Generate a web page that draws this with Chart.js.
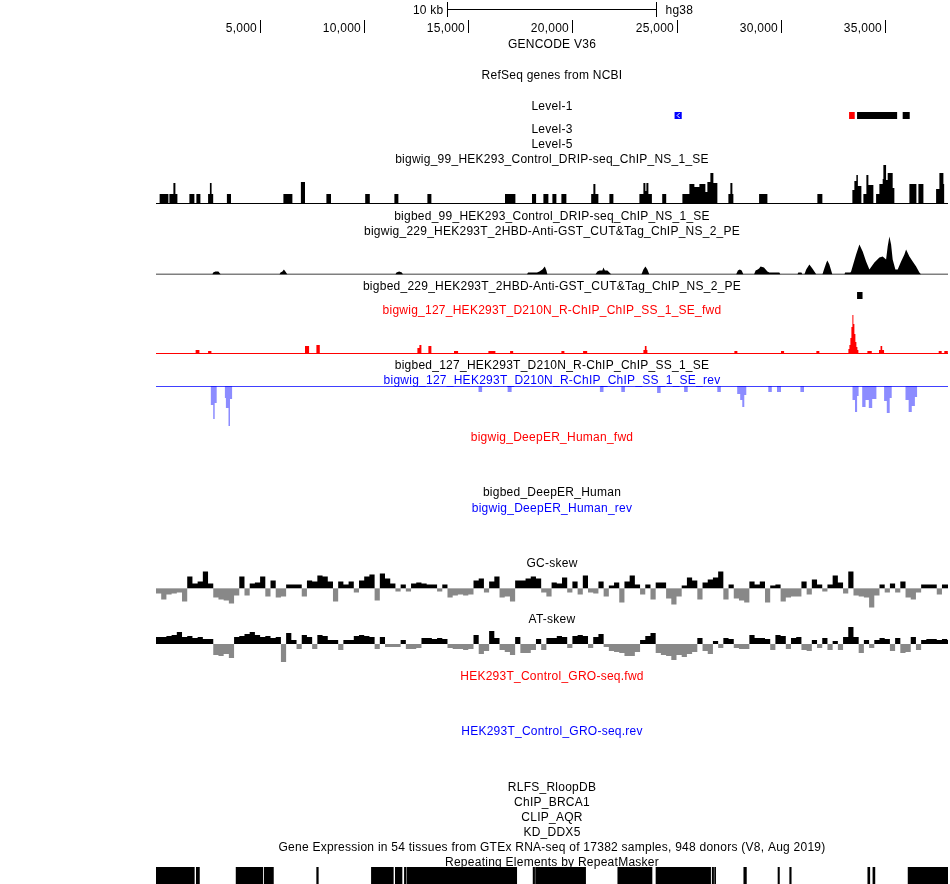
<!DOCTYPE html>
<html><head><meta charset="utf-8">
<script src="https://cdn.jsdelivr.net/npm/chart.js@4.4.1/dist/chart.umd.min.js"></script>
<style>html,body{margin:0;padding:0;background:#fff;}canvas{display:block;}</style>
</head><body>
<canvas id="c" width="950" height="884"></canvas>
<script>
// ---------------- DATA ----------------
const X_MIN = 0, X_MAX = 38040;                      // viewed region (bp)
const rulerTicks  = [5000, 10000, 15000, 20000, 25000, 30000, 35000];
const rulerLabels = ['5,000', '10,000', '15,000', '20,000', '25,000', '30,000', '35,000'];
const scaleBar = [14000, 24000];
const scaleBarLabel = '10 kb';
const assemblyLabel = 'hg38';

const trackTitles = [
  'GENCODE V36',
  'RefSeq genes from NCBI',
  'Level-1',
  'Level-3',
  'Level-5',
  'bigwig_99_HEK293_Control_DRIP-seq_ChIP_NS_1_SE',
  'bigbed_99_HEK293_Control_DRIP-seq_ChIP_NS_1_SE',
  'bigwig_229_HEK293T_2HBD-Anti-GST_CUT&Tag_ChIP_NS_2_PE',
  'bigbed_229_HEK293T_2HBD-Anti-GST_CUT&Tag_ChIP_NS_2_PE',
  'bigwig_127_HEK293T_D210N_R-ChIP_ChIP_SS_1_SE_fwd',
  'bigbed_127_HEK293T_D210N_R-ChIP_ChIP_SS_1_SE',
  'bigwig_127_HEK293T_D210N_R-ChIP_ChIP_SS_1_SE_rev',
  'bigwig_DeepER_Human_fwd',
  'bigbed_DeepER_Human',
  'bigwig_DeepER_Human_rev',
  'GC-skew',
  'AT-skew',
  'HEK293T_Control_GRO-seq.fwd',
  'HEK293T_Control_GRO-seq.rev',
  'RLFS_RloopDB',
  'ChIP_BRCA1',
  'CLIP_AQR',
  'KD_DDX5',
  'Gene Expression in 54 tissues from GTEx RNA-seq of 17382 samples, 948 donors (V8, Aug 2019)',
  'Repeating Elements by RepeatMasker'
];

// Level-1 gene features
const geneStart  = [24923, 33304, 33688, 35879];
const geneEnd    = [25235, 33544, 35581, 36186];
const geneKind   = ['lnc', 'pseudo', 'coding', 'coding'];
const geneStrand = ['-', '+', '+', '+'];

// DRIP-seq bigwig (signal per interval)
const dripStart = [163,644,836,932,1604,1940,2502,2589,2670,3405,6119,6959,8184,10048,11450,13035,16763,18059,18607,19039,19471,
  20902,21008,21104,21777,23218,23410,23506,23554,23650,24314,25283,25619,25859,26099,26387,26483,26627,26771,27492,27588,27684,
  28967,31766,33447,33543,33639,33712,33976,34120,34216,34586,34744,34903,34936,35066,35143,35383,36186,36619,37468,37627,37819];
const dripEnd = [596,836,932,1028,1844,2132,2589,2670,2747,3602,6551,7156,8405,10269,11642,13227,17262,18256,18847,19231,19711,
  21008,21104,21248,21969,23410,23506,23554,23650,23818,24506,25619,25859,26099,26387,26483,26627,26771,26963,27588,27684,27732,
  29366,32006,33543,33639,33712,33880,34120,34216,34456,34744,34903,34936,35066,35143,35383,35464,36523,36859,37627,37819,37867];
const dripSignal = [10,10,21,10,10,10,10,21,10,10,10,22,10,10,10,10,10,10,10,10,10,
  10,20,10,10,10,21,13,21,10,10,10,20,17,20,12,22,31,21,10,21,10,
  10,10,14,23,29,18,10,29,19,10,20,25,39,24,31,16,20,20,15,31,20];

// CUT&Tag bigwig (position, signal)
const cutPos = [2700,2747,2853,2997,3112, 5927,5980,6071,6143,6215,6311, 11498,11550,11680,11810,11863,
  17814,17870,18300,18415,18559,18674,18751,18799, 21104,21200,21296,21440,21488,21560,21680,21873,
  23314,23410,23506,23600,23698, 27862,27950,28040,28130,28215,
  28722,28800,28900,28967,29040,29200,29366,29460,29940,29990, 30806,30850,31000,31046,
  31142,31230,31382,31526,31718, 32006,32100,32200,32246,32342,32486,
  33063,33100,33350,33386,33626,33785,33943,34106,34265,34505,34744,34903,35066,35143,35225,35307,35383,
  35513,35624,35787,35946,36027,36186,36345,36508,36666,36750];
const cutSignal = [0,2,3,3,0, 0,2,3,5,3,0, 0,2,3,2,0,
  0,2,2,3,5,8,4,0, 0,3,4,4,7,4,4,0,
  0,5,8,5,0, 0,4,5,4,0,
  0,4,5,6,8,7,3,2,2,0, 0,2,2,0,
  0,5,10,6,0, 0,6,12,14,10,0,
  0,2,2,3,20,30,23,13,5,12,17,18,15,28,38,30,15,
  5,5,13,20,25,18,13,8,2,0];

// bigbed_229 peak
const bed229Start = [33688];
const bed229End   = [33919];

// R-ChIP forward strand
const fwdStart = [1892,2502,7156,7704,12555,12651,13083,14313,15965,17007,19471,20513,23410,23480,23560,27780,30018,31718,
  33256,33304,33352,33400,33448,33496,33544,33592,33640,33688,34168,34725,34800,34880,37593,37862];
const fwdEnd = [2085,2661,7353,7867,12651,12747,13227,14510,16301,17156,19615,20710,23480,23560,23602,27924,30167,31862,
  33304,33352,33400,33448,33496,33544,33592,33640,33688,33736,34379,34800,34880,34969,37737,38035];
const fwdSignal = [4,3,8,9,6,9,8,3,3,3,3,3,4,8,4,3,3,3,
  5,9,16,27,39,30,20,12,7,4,3,4,8,4,3,3];

// R-ChIP reverse strand
const revStart = [2622,2747,2819,3309,3357,3482,3554,15490,16888,21321,22349,24068,25365,26960,27915,28059,28160,28256,
  29409,29827,30951,33453,33573,33674,33919,34080,34236,34400,34971,35100,35240,35998,36150,36300,36450];
const revEnd = [2747,2819,2915,3357,3482,3554,3655,15663,17080,21494,22522,24236,25538,27128,28059,28160,28256,28352,
  29577,30019,31124,33573,33674,33746,34080,34236,34400,34601,35100,35240,35336,36150,36300,36450,36565];
const revSignal = [-19,-33,-17,-12,-22,-40,-13,-6,-6,-6,-6,-7,-6,-6,-8,-14,-21,-9,
  -6,-6,-6,-14,-26,-10,-21,-14,-22,-13,-15,-27,-12,-14,-26,-20,-11];

// skew tracks, one value per 250-bp bin
const SKEW_BIN = 250;
const gcSkew = [-0.05,-0.11,-0.06,-0.05,-0.04,-0.13,0.12,0.05,0.07,0.17,0.05,-0.09,-0.11,-0.12,-0.15,-0.07,0.12,-0.07,0.05,0.06,
  0.12,-0.08,0.08,-0.09,-0.08,0.04,0.04,0.04,-0.08,0.08,0.07,0.13,0.12,0.07,-0.13,0.07,0.04,0.07,-0.04,0.08,
  0.12,0.14,-0.12,0.15,0.10,0.05,-0.03,0.04,-0.03,0.05,0.06,0.05,0.04,0.04,-0.03,0.04,-0.09,-0.07,-0.06,-0.07,
  -0.06,0.08,0.10,-0.04,0.07,0.12,-0.09,-0.08,-0.13,0.08,0.08,0.10,0.12,0.10,-0.04,-0.08,0.06,0.05,0.11,-0.04,
  0.07,-0.06,0.13,-0.04,-0.05,0.07,-0.08,0.03,0.06,-0.14,0.07,0.13,0.04,-0.06,0.04,-0.11,0.06,0.06,-0.10,-0.16,
  -0.08,0.03,0.11,0.08,-0.11,0.06,0.09,0.11,0.17,-0.11,0.04,-0.10,-0.12,-0.14,0.07,0.04,0.07,-0.14,0.03,0.04,
  -0.13,-0.09,-0.08,-0.08,0.07,-0.06,0.09,0.04,-0.03,0.04,0.13,0.06,-0.05,0.17,-0.07,-0.08,-0.09,-0.19,-0.07,0.04,
  -0.04,0.05,-0.04,0.07,-0.09,-0.11,-0.04,0.04,0.04,0.04,-0.06,0.04,0.04];
const atSkew = [0.07,0.07,0.08,0.09,0.12,0.07,0.08,0.06,0.07,0.05,0.05,-0.11,-0.12,-0.10,-0.14,0.07,0.08,0.10,0.12,0.09,
  0.07,0.08,0.06,0.07,-0.18,0.11,0.04,-0.05,0.09,0.07,-0.05,0.09,0.08,0.04,0.04,-0.06,0.04,0.04,0.08,0.09,
  0.08,0.07,-0.05,0.07,-0.03,-0.03,-0.03,0.04,-0.05,-0.05,-0.04,0.06,0.06,0.05,0.06,0.05,-0.04,-0.05,-0.05,-0.06,
  -0.05,0.09,-0.10,-0.07,0.13,0.06,-0.06,-0.08,-0.11,0.07,-0.09,-0.09,-0.06,0.05,-0.06,0.06,0.06,0.08,0.07,-0.04,
  0.08,0.09,0.08,-0.04,0.07,0.10,-0.03,-0.07,-0.08,-0.09,-0.12,-0.12,-0.08,0.04,0.08,0.11,-0.09,-0.11,-0.12,-0.16,
  -0.11,-0.13,-0.10,-0.08,0.06,-0.07,-0.10,0.03,-0.04,0.06,0.05,-0.04,-0.05,-0.05,0.09,0.06,0.06,0.05,-0.06,0.09,
  0.08,-0.05,0.06,0.07,-0.06,-0.07,0.04,-0.04,0.06,-0.06,0.03,-0.06,0.07,0.17,0.07,-0.09,0.04,-0.04,0.04,0.06,
  0.05,-0.07,0.06,-0.09,-0.08,0.07,-0.06,0.04,0.05,0.05,0.04,0.05,0.04];

// RepeatMasker elements
const rmskStart = [0,1936,3847,5197,7718,10346,11494,11931,12056,18112,18232,22180,24015,26715,26830,28232,29875,30437,34188,34433,36123];
const rmskEnd   = [1840,2085,5125,5639,7795,11398,11816,12008,17325,18184,20634,23823,26638,26780,26880,28357,29943,30509,34284,34529,38040];

// ---------------- LAYOUT / STYLE ----------------
const FONT = "12px 'Liberation Sans', Arial, Helvetica, sans-serif";
const LETTER_SPACING = '0.25px';
const RED = '#ff0000', BLUE = '#0000ff', BLACK = '#000000';
const TITLE_LAYOUT = [47.5,78.5,109.5,132.5,147.5,162.5,219.5,234.5,289.5,313.5,368.5,383.5,440.5,495.5,511.5,566.5,622.5,679.5,734.5,790.5,805.5,820.5,835.5,850.5,865.5];
const TITLE_COLOR = [BLACK,BLACK,BLACK,BLACK,BLACK,BLACK,BLACK,BLACK,BLACK,RED,BLACK,BLUE,RED,BLACK,BLUE,BLACK,BLACK,RED,BLUE,BLACK,BLACK,BLACK,BLACK,BLACK,BLACK];
const GENE_COLOR = {lnc: BLUE, pseudo: RED, coding: BLACK};
const BANDS = {
  yGene: [112, 119], yDrip: [164, 204], yCut: [234.5, 274.5], yBed: [292, 299],
  yFwd: [314, 354], yRev: [386, 426], yGC: [568.5, 608.5], yAT: [624, 664], yRmsk: [867, 884]
};

// ---------------- BUILD ----------------
function stepPoints(starts, ends, vals) {
  const pts = [];
  for (let i = 0; i < starts.length; i++) { pts.push({x: starts[i], y: vals[i]}); pts.push({x: ends[i], y: 0}); }
  return pts;
}
function binPoints(vals, bin) {
  const pts = vals.map((v, i) => ({x: i * bin, y: v}));
  pts.push({x: vals.length * bin, y: 0});
  return pts;
}
function spans(starts, ends, label) { return starts.map((s, i) => ({x: [s, ends[i]], y: label})); }
const zeroLine = [{x: X_MIN, y: 0}, {x: X_MAX, y: 0}];

const lineBase = {type: 'line', pointRadius: 0, borderWidth: 0, borderColor: 'rgba(0,0,0,0)', tension: 0};
const baseLine = (axis, color, w) => ({type: 'line', data: zeroLine, yAxisID: axis, borderColor: color, borderWidth: w, pointRadius: 0, fill: false});
const blocks = (data, axis, colors, h) => ({type: 'bar', indexAxis: 'y', data, yAxisID: axis, xAxisID: 'x', backgroundColor: colors,
  barThickness: h, grouped: false, categoryPercentage: 1, barPercentage: 1, borderWidth: 0});

const datasets = [
  baseLine('yDrip', BLACK, 2),
  baseLine('yCut', BLACK, 1.6),
  baseLine('yFwd', RED, 2),
  baseLine('yRev', BLUE, 1.6),
  Object.assign({}, lineBase, {label: 'DRIP', data: stepPoints(dripStart, dripEnd, dripSignal), yAxisID: 'yDrip', stepped: true, fill: 'origin', backgroundColor: BLACK}),
  Object.assign({}, lineBase, {label: 'CUT&Tag', data: cutPos.map((p, i) => ({x: p, y: cutSignal[i]})), yAxisID: 'yCut', fill: 'origin', backgroundColor: BLACK}),
  Object.assign({}, lineBase, {label: 'R-ChIP fwd', data: stepPoints(fwdStart, fwdEnd, fwdSignal), yAxisID: 'yFwd', stepped: true, fill: 'origin', backgroundColor: RED}),
  Object.assign({}, lineBase, {label: 'R-ChIP rev', data: stepPoints(revStart, revEnd, revSignal), yAxisID: 'yRev', stepped: true, fill: 'origin', backgroundColor: 'rgb(140,140,255)'}),
  Object.assign({}, lineBase, {label: 'GC-skew', data: binPoints(gcSkew, SKEW_BIN), yAxisID: 'yGC', stepped: true, fill: {target: 'origin', above: BLACK, below: '#888888'}}),
  Object.assign({}, lineBase, {label: 'AT-skew', data: binPoints(atSkew, SKEW_BIN), yAxisID: 'yAT', stepped: true, fill: {target: 'origin', above: BLACK, below: '#888888'}}),
  blocks(spans(geneStart, geneEnd, 'Level-1'), 'yGene', geneKind.map(k => GENE_COLOR[k]), 7),
  blocks(spans(bed229Start, bed229End, 'bigbed_229'), 'yBed', BLACK, 7),
  blocks(spans(rmskStart, rmskEnd, 'rmsk'), 'yRmsk', BLACK, 17)
];

const hiddenLinear = (min, max) => ({type: 'linear', display: false, min, max});
const hiddenCat = (lab) => ({type: 'category', display: false, labels: [lab], offset: true});

const bandPlugin = {
  id: 'bands',
  afterLayout(chart) {
    for (const id in BANDS) {
      const s = chart.scales[id];
      if (!s) continue;
      s.top = BANDS[id][0]; s.bottom = BANDS[id][1]; s.height = s.bottom - s.top;
      s.configure();
    }
  }
};

// white strand chevrons inside minus-strand gene blocks
const strandPlugin = {
  id: 'strand',
  afterDatasetsDraw(chart) {
    const ctx = chart.ctx, xs = chart.scales.x, ys = chart.scales.yGene;
    const cy = ys.getPixelForValue(0);
    ctx.save(); ctx.strokeStyle = '#ffffff'; ctx.lineWidth = 1;
    geneStart.forEach((s, i) => {
      if (geneStrand[i] !== '-') return;
      const cx = (xs.getPixelForValue(s) + xs.getPixelForValue(geneEnd[i])) / 2;
      ctx.beginPath(); ctx.moveTo(cx + 1.5, cy - 2.5); ctx.lineTo(cx - 1, cy); ctx.lineTo(cx + 1.5, cy + 2.5); ctx.stroke();
    });
    ctx.restore();
  }
};

const textPlugin = {
  id: 'browserText',
  afterDraw(chart) {
    const ctx = chart.ctx, xs = chart.scales.x;
    ctx.save();
    ctx.font = FONT; ctx.fillStyle = BLACK; ctx.strokeStyle = BLACK; ctx.lineWidth = 1;
    ctx.textBaseline = 'alphabetic';
    if ('letterSpacing' in ctx) ctx.letterSpacing = LETTER_SPACING;
    const a = Math.round(xs.getPixelForValue(scaleBar[0])) + 0.5;
    const b = Math.round(xs.getPixelForValue(scaleBar[1])) + 0.5;
    ctx.beginPath();
    ctx.moveTo(a, 2); ctx.lineTo(a, 17);
    ctx.moveTo(b, 2); ctx.lineTo(b, 17);
    ctx.moveTo(a, 9.5); ctx.lineTo(b, 9.5);
    ctx.stroke();
    ctx.textAlign = 'right'; ctx.fillText(scaleBarLabel, a - 4, 13.5);
    ctx.textAlign = 'left'; ctx.fillText(assemblyLabel, b + 9, 13.5);
    rulerTicks.forEach((v, i) => {
      const p = Math.round(xs.getPixelForValue(v)) + 0.5;
      ctx.beginPath(); ctx.moveTo(p, 20); ctx.lineTo(p, 33); ctx.stroke();
      ctx.textAlign = 'right'; ctx.fillText(rulerLabels[i], p - 3.5, 31.5);
    });
    ctx.textAlign = 'center';
    const cx = (chart.chartArea.left + chart.chartArea.right) / 2;
    trackTitles.forEach((t, i) => { ctx.fillStyle = TITLE_COLOR[i]; ctx.fillText(t, cx, TITLE_LAYOUT[i]); });
    ctx.restore();
  }
};

new Chart(document.getElementById('c'), {
  type: 'line',
  data: {datasets},
  options: {
    responsive: false, animation: false, events: [],
    layout: {padding: {left: 156, right: 2, top: 0, bottom: 0}},
    plugins: {legend: {display: false}, tooltip: {enabled: false}, title: {display: false}},
    scales: {
      x: {type: 'linear', display: false, min: X_MIN, max: X_MAX},
      yGene: hiddenCat('Level-1'),
      yDrip: hiddenLinear(0, 40),
      yCut: hiddenLinear(0, 40),
      yBed: hiddenCat('bigbed_229'),
      yFwd: hiddenLinear(0, 40),
      yRev: hiddenLinear(-40, 0),
      yGC: hiddenLinear(-0.2, 0.2),
      yAT: hiddenLinear(-0.2, 0.2),
      yRmsk: hiddenCat('rmsk')
    }
  },
  plugins: [bandPlugin, strandPlugin, textPlugin]
});
</script>
</body></html>
